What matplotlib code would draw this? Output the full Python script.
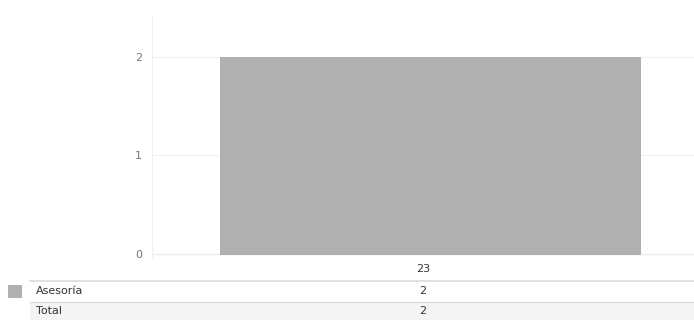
import matplotlib
matplotlib.use("Agg")
import matplotlib.pyplot as plt
from matplotlib.patches import Rectangle
from matplotlib.lines import Line2D

# dati: una sola colonna (23) con una sola serie
categorie = ["23"]
serie = ["Asesoría"]
valori = [2]
totali = [sum(valori)]
y_ticks = [0, 1, 2]

GRIGIO_BARRA = "#b0b0b0"
GRIGIO_TESTO = "#777777"
W, H = 694, 320

plt.rcParams.update({"font.family": "DejaVu Sans", "font.size": 8})

fig = plt.figure(figsize=(W / 100, H / 100), dpi=100)


def fx(px):
    return px / W


def fy(py):
    return 1 - py / H


# area del grafico
ax = fig.add_axes([fx(152), fy(258), fx(694 - 152), (258 - 17) / H])
ax.bar(0, valori[0], width=0.775, color=GRIGIO_BARRA, edgecolor="#a8a8a8", linewidth=0.6, zorder=3)
ax.set_xlim(-0.5125, 0.4875)
ax.set_ylim(-0.04, 2.4)
ax.set_yticks(y_ticks)
ax.set_yticklabels([str(t) for t in y_ticks], color=GRIGIO_TESTO, fontsize=8)
ax.tick_params(axis="y", length=0, pad=7)
ax.set_xticks([])
for s in ["top", "right", "bottom"]:
    ax.spines[s].set_visible(False)
ax.spines["left"].set_color("#f0f0f0")
ax.grid(axis="y", color="#f0f0f0", lw=0.8, zorder=0)
ax.axhline(0, color="#e8e8e8", lw=1, zorder=1)

# tabella sotto il grafico
cx = fx(423)
fig.text(cx, fy(269), categorie[0], ha="center", va="center", color="#333333", fontsize=8)
fig.add_artist(Line2D([fx(30), 1], [fy(281), fy(281)], color="#dcdcdc", lw=1.2))
fig.add_artist(Rectangle((fx(8), fy(298)), fx(14), 13 / H, color=GRIGIO_BARRA, lw=0))
fig.text(fx(36), fy(291), serie[0], ha="left", va="center", color="#333333", fontsize=8)
fig.text(cx, fy(291), str(valori[0]), ha="center", va="center", color="#333333", fontsize=8)
fig.add_artist(Line2D([fx(30), 1], [fy(302), fy(302)], color="#dcdcdc", lw=1.0))
fig.add_artist(Rectangle((fx(30), 0), 1 - fx(30), fy(303), color="#f4f4f4", lw=0))
fig.text(fx(36), fy(311), "Total", ha="left", va="center", color="#333333", fontsize=8)
fig.text(cx, fy(311), str(totali[0]), ha="center", va="center", color="#333333", fontsize=8)

fig.savefig("out.png", dpi=100)
